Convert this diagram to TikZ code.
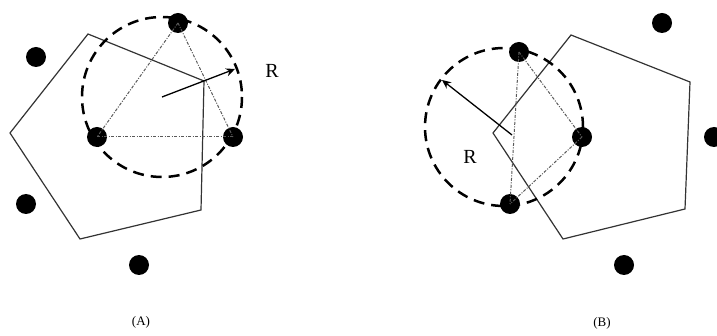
\documentclass[tikz,border=0pt]{standalone}
\usepackage{fontspec}
\setmainfont{Liberation Serif}
\usetikzlibrary{arrows.meta}
\begin{document}
\begin{tikzpicture}[x=1pt, y=-1pt,
  dot/.style={circle, fill=black, minimum size=20pt, inner sep=0pt},
  cell/.style={draw=black!80, line width=1.2pt, line join=miter},
  reach/.style={draw=black, line width=2.5pt, dash pattern=on 11pt off 7pt},
  link/.style={draw=black!65, line width=1pt, dash pattern=on 3pt off 1.5pt on 1pt off 1.5pt},
  arr/.style={-{Stealth[length=9pt, width=8pt]}, line width=1.3pt},
  lbl/.style={font=\fontsize{20}{23}\selectfont, inner sep=0pt},
  caption/.style={font=\fontsize{13}{15}\selectfont, inner sep=0pt}]
\useasboundingbox (0,0) rectangle (717,336);

% (A)
\coordinate (a1) at (88,34);
\coordinate (a2) at (204,81);
\coordinate (a3) at (201,210);
\coordinate (a4) at (80,239);
\coordinate (a5) at (10,133);
\draw[cell] (a1) -- (a2) -- (a3) -- (a4) -- (a5) -- cycle;
\coordinate (ctrA) at (162,97);
\draw[reach] (ctrA) circle (80);
\node[dot] (atop) at (178,23) {};
\node[dot] (aleft) at (97,137) {};
\node[dot] (aright) at (233,137) {};
\node[dot] (ao1) at (36,57) {};
\node[dot] (ao2) at (26,204) {};
\node[dot] (ao3) at (139,265) {};
\foreach \a/\b in {atop/aleft, atop/aright, aleft/aright}
  \draw[link] (\a.center) -- (\b.center);
\coordinate (tipA) at (235,69);
\draw[arr] (ctrA) -- (tipA);
\node[lbl] (rA) at (272,71) {R};
\node[caption] (capA) at (141,322) {(A)};

% (B)
\coordinate (b1) at (571,35);
\coordinate (b2) at (690,82);
\coordinate (b3) at (685,209);
\coordinate (b4) at (563,239);
\coordinate (b5) at (493,133);
\draw[cell] (b1) -- (b2) -- (b3) -- (b4) -- (b5) -- cycle;
\coordinate (ctrB) at (504,127);
\draw[reach] (ctrB) circle (79);
\node[dot] (btop) at (519,52) {};
\node[dot] (bright) at (582,137) {};
\node[dot] (bbot) at (510,204) {};
\node[dot] (bo1) at (662,23) {};
\node[dot] (bo2) at (714,137) {};
\node[dot] (bo3) at (624,265) {};
\foreach \a/\b in {btop/bbot, btop/bright, bright/bbot}
  \draw[link] (\a.center) -- (\b.center);
\coordinate (startB) at (512,135);
\coordinate (tipB) at (442,80);
\draw[arr] (startB) -- (tipB);
\node[lbl] (rB) at (470,157) {R};
\node[caption] (capB) at (602,323) {(B)};
\end{tikzpicture}
\end{document}
